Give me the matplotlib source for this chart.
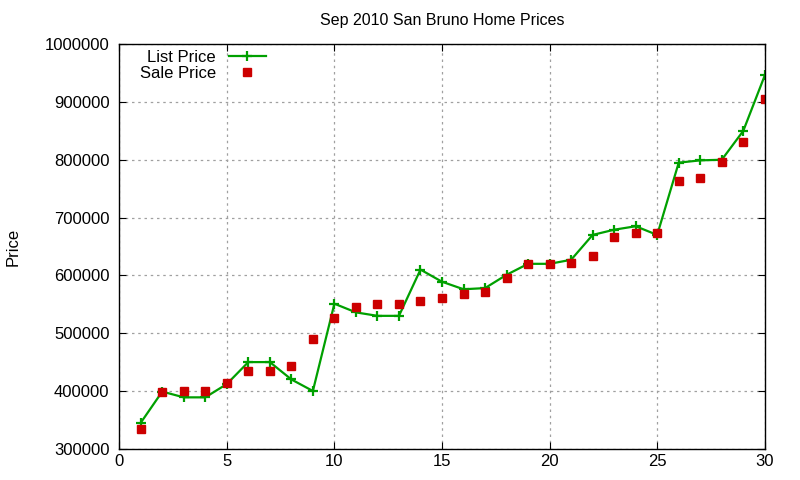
import matplotlib
matplotlib.use("Agg")
import matplotlib.pyplot as plt

# values
days = list(range(1, 31))
list_price = [
    345000, 399000, 389000, 389000, 412000, 450000, 450000, 420000, 400000, 551000,
    536000, 530000, 530000, 610000, 589000, 576000, 578000, 601000, 620000, 620000,
    627000, 670000, 679000, 685000, 670000, 795000, 799000, 800000, 850000, 946000,
]
sale_price = [
    335000, 399000, 400000, 400000, 413000, 434000, 434000, 444000, 490000, 527000,
    546000, 550000, 550000, 556000, 561000, 567000, 571000, 595000, 620000, 620000,
    622000, 634000, 666000, 674000, 674000, 764000, 769000, 797000, 830000, 905000,
]
x_ticks = [0, 5, 10, 15, 20, 25, 30]
y_ticks = [300000, 400000, 500000, 600000, 700000, 800000, 900000, 1000000]

plt.rcParams["font.family"] = ["Liberation Sans", "DejaVu Sans"]

fig = plt.figure(figsize=(8, 4.8), dpi=100)
ax = fig.add_axes([0.149, 0.065, 0.807, 0.843])

ax.plot(days, list_price, color="#00a000", linewidth=1.6, marker="+",
        markersize=7, markeredgewidth=1.6, label="List Price")
ax.plot(days, sale_price, color="#cc0000", linestyle="none", marker="s",
        markersize=5.5, label="Sale Price")

ax.set_xlim(0, 30)
ax.set_ylim(300000, 1000000)
ax.set_xticks(x_ticks)
ax.set_yticks(y_ticks)
ax.set_yticklabels([str(v) for v in y_ticks])
ax.tick_params(direction="in", top=True, right=True, labelsize=12, length=5)
ax.tick_params(axis="y", pad=7)
ax.grid(True, color="#a0a0a0", linestyle=(0, (2, 3)), linewidth=0.9)
for s in ax.spines.values():
    s.set_linewidth(1.0)

ax.set_title("Sep 2010 San Bruno Home Prices", fontsize=11.5, pad=14)
ax.set_ylabel("Price", fontsize=12, labelpad=17)

ax.legend(loc="upper left", bbox_to_anchor=(0.016, 1.01), frameon=False,
          markerfirst=False, fontsize=12, handlelength=2.2,
          labelspacing=0.05, borderaxespad=0.2)

fig.savefig("out.png", dpi=100)
